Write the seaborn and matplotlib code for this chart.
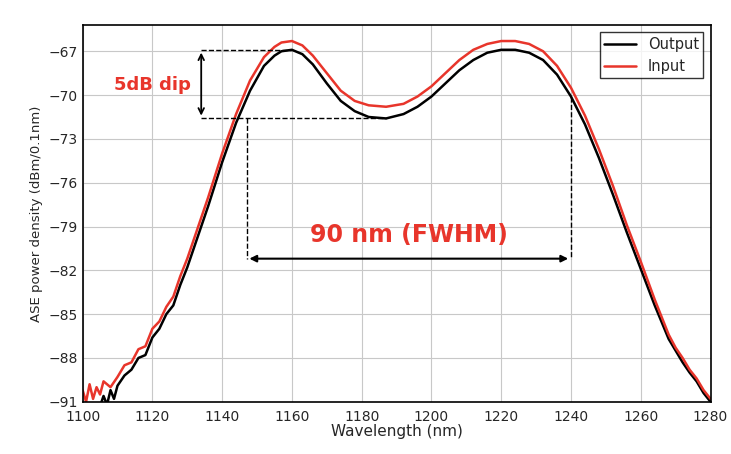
import matplotlib
matplotlib.use("Agg")
import matplotlib.pyplot as plt
import seaborn as sns

wl_out = [1105,1106,1107,1108,1109,1110,1112,1114,1116,1118,1120,1122,1124,1126,1128,1130,1133,1136,1140,1144,1148,1152,1155,1157,1160,1163,1166,1170,1174,1178,1182,1187,1192,1196,1200,1204,1208,1212,1216,1220,1224,1228,1232,1236,1240,1244,1248,1252,1256,1260,1264,1268,1270,1272,1274,1276,1278,1280]
db_out = [-91.3,-90.6,-91.2,-90.2,-90.8,-89.9,-89.2,-88.8,-88.0,-87.8,-86.6,-86.0,-85.0,-84.4,-83.0,-81.8,-79.7,-77.6,-74.6,-71.9,-69.7,-68.0,-67.3,-67.0,-66.9,-67.2,-67.9,-69.2,-70.4,-71.1,-71.5,-71.6,-71.3,-70.8,-70.1,-69.2,-68.3,-67.6,-67.1,-66.9,-66.9,-67.1,-67.6,-68.6,-70.1,-72.0,-74.3,-76.8,-79.4,-81.9,-84.4,-86.7,-87.5,-88.3,-89.0,-89.6,-90.4,-91.0]
wl_in = [1100,1101,1102,1103,1104,1105,1106,1108,1110,1112,1114,1116,1118,1120,1122,1124,1126,1128,1130,1133,1136,1140,1144,1148,1152,1155,1157,1160,1163,1166,1170,1174,1178,1182,1187,1192,1196,1200,1204,1208,1212,1216,1220,1224,1228,1232,1236,1240,1244,1248,1252,1256,1260,1264,1268,1270,1272,1274,1276,1278,1280]
db_in = [-90.2,-91.0,-89.8,-90.8,-90.0,-90.5,-89.6,-90.0,-89.3,-88.5,-88.3,-87.4,-87.2,-86.0,-85.5,-84.5,-83.8,-82.4,-81.2,-79.1,-77.0,-74.0,-71.3,-69.0,-67.4,-66.7,-66.4,-66.3,-66.6,-67.3,-68.5,-69.7,-70.4,-70.7,-70.8,-70.6,-70.1,-69.4,-68.5,-67.6,-66.9,-66.5,-66.3,-66.3,-66.5,-67.0,-68.0,-69.5,-71.4,-73.7,-76.2,-78.9,-81.4,-84.0,-86.4,-87.3,-88.0,-88.8,-89.4,-90.2,-90.8]

sns.set_style("white")
fig, ax = plt.subplots(figsize=(7.31, 4.54), dpi=100)
fig.subplots_adjust(left=0.113, right=0.972, top=0.945, bottom=0.115)
sns.lineplot(x=wl_out, y=db_out, ax=ax, color="black", lw=1.8, label="Output")
sns.lineplot(x=wl_in, y=db_in, ax=ax, color="#e8352b", lw=1.8, label="Input")
ax.set_xlim(1100, 1280)
ax.set_ylim(-91, -65.2)
ax.set_xticks(range(1100, 1281, 20))
ax.set_yticks(range(-91, -66, 3))
ax.grid(True, color="#c8c8c8", lw=0.8)
for s in ax.spines.values():
    s.set_color("black"); s.set_linewidth(1.2)
ax.tick_params(direction="in", length=4, labelsize=10)
ax.tick_params(axis="x", pad=6)
ax.set_xlabel("Wavelength (nm)", fontsize=11, labelpad=0)
ax.set_ylabel("ASE power density (dBm/0.1nm)", fontsize=9.5)
ax.legend(loc="upper right", fontsize=10.5, frameon=True, fancybox=False, edgecolor="black", borderpad=0.3, handlelength=2.2)

ax.plot([1134, 1160], [-66.9, -66.9], ls="--", color="black", lw=1)
ax.plot([1134, 1187], [-71.6, -71.6], ls="--", color="black", lw=1)
ax.annotate("", xy=(1134, -66.9), xytext=(1134, -71.6), arrowprops=dict(arrowstyle="<->", color="black", lw=1.3))
ax.text(1131, -69.3, "5dB dip", color="#e8352b", fontsize=13, fontweight="bold", ha="right", va="center")
ax.plot([1147, 1147], [-71.6, -81.2], ls="--", color="black", lw=1)
ax.plot([1240, 1240], [-70.1, -81.2], ls="--", color="black", lw=1)
ax.annotate("", xy=(1147, -81.2), xytext=(1240, -81.2), arrowprops=dict(arrowstyle="<|-|>", color="black", lw=1.5, mutation_scale=10))
ax.text(1193.5, -80.4, "90 nm (FWHM)", color="#e8352b", fontsize=17, fontweight="bold", ha="center", va="bottom")
fig.savefig("out.png", dpi=100)
